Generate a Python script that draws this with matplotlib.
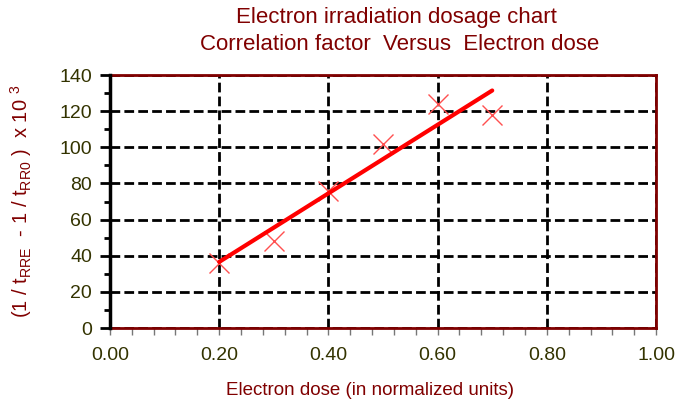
import numpy as np
import matplotlib.pyplot as plt
from matplotlib.ticker import MultipleLocator

plt.rcParams['font.family'] = ['Liberation Sans', 'DejaVu Sans']
plt.rcParams['mathtext.fontset'] = 'custom'
plt.rcParams['mathtext.rm'] = 'Liberation Sans'
plt.rcParams['mathtext.it'] = 'Liberation Sans'

dose = [0.2, 0.3, 0.4, 0.5, 0.6, 0.7]
factor = [36, 48, 76, 102, 124, 118]

dark_red = '#800000'
tick_col = '#333300'

fig = plt.figure(figsize=(6.78, 4.07), dpi=100)
ax = fig.add_axes([0.1622, 0.1941, 0.8054, 0.6216])

ax.plot(dose, factor, 'x', color='#ff5050', markersize=14, markeredgewidth=1.0, zorder=4)

# linear trend line through the points
slope, icpt = np.polyfit(dose, factor, 1)
xf = np.array([min(dose), max(dose)])
ax.plot(xf, slope * xf + icpt, color='#ff0000', linewidth=3, zorder=5, solid_capstyle='round')

ax.set_xlim(0, 1)
ax.set_ylim(0, 140)
ax.xaxis.set_major_locator(MultipleLocator(0.2))
ax.xaxis.set_minor_locator(MultipleLocator(0.04))
ax.yaxis.set_major_locator(MultipleLocator(20))
ax.yaxis.set_minor_locator(MultipleLocator(10))
ax.xaxis.set_major_formatter(lambda v, p: f"{v:.2f}")

ax.grid(True, which='major', color='black', linestyle=(0, (3.5, 1.5)), linewidth=2)
ax.set_axisbelow(True)

for s in ['top', 'right', 'bottom']:
    ax.spines[s].set_color(dark_red)
    ax.spines[s].set_linewidth(2)
ax.spines['left'].set_color('black')
ax.spines['left'].set_linewidth(2.5)
ax.spines['left'].set_zorder(6)

ax.tick_params(axis='y', which='major', direction='out', length=7, width=2,
               color='black', labelsize=14, labelcolor=tick_col, pad=6)
ax.tick_params(axis='y', which='minor', direction='out', length=4, width=2, color='black')
ax.tick_params(axis='x', which='both', direction='out', length=5, width=1,
               color='#777777', labelsize=14, labelcolor=tick_col, pad=9)

ax.set_xlabel("Electron dose (in normalized units)", fontsize=13.5, color=dark_red)
ax.xaxis.set_label_coords(0.476, -0.215)
ax.set_ylabel(r"(1 / t$_{\mathrm{RRE}}$  - 1 / t$_{\mathrm{RR0}}$ )  x 10 $^{3}$",
              fontsize=14.5, color=dark_red, labelpad=18)
fig.text(396 / 678, 1 - 17 / 407, "Electron irradiation dosage chart",
         fontsize=16, color=dark_red, ha='center', va='center')
fig.text(400 / 678, 1 - 45 / 407, "Correlation factor  Versus  Electron dose",
         fontsize=16, color=dark_red, ha='center', va='center')

fig.savefig('out.png', dpi=100)
